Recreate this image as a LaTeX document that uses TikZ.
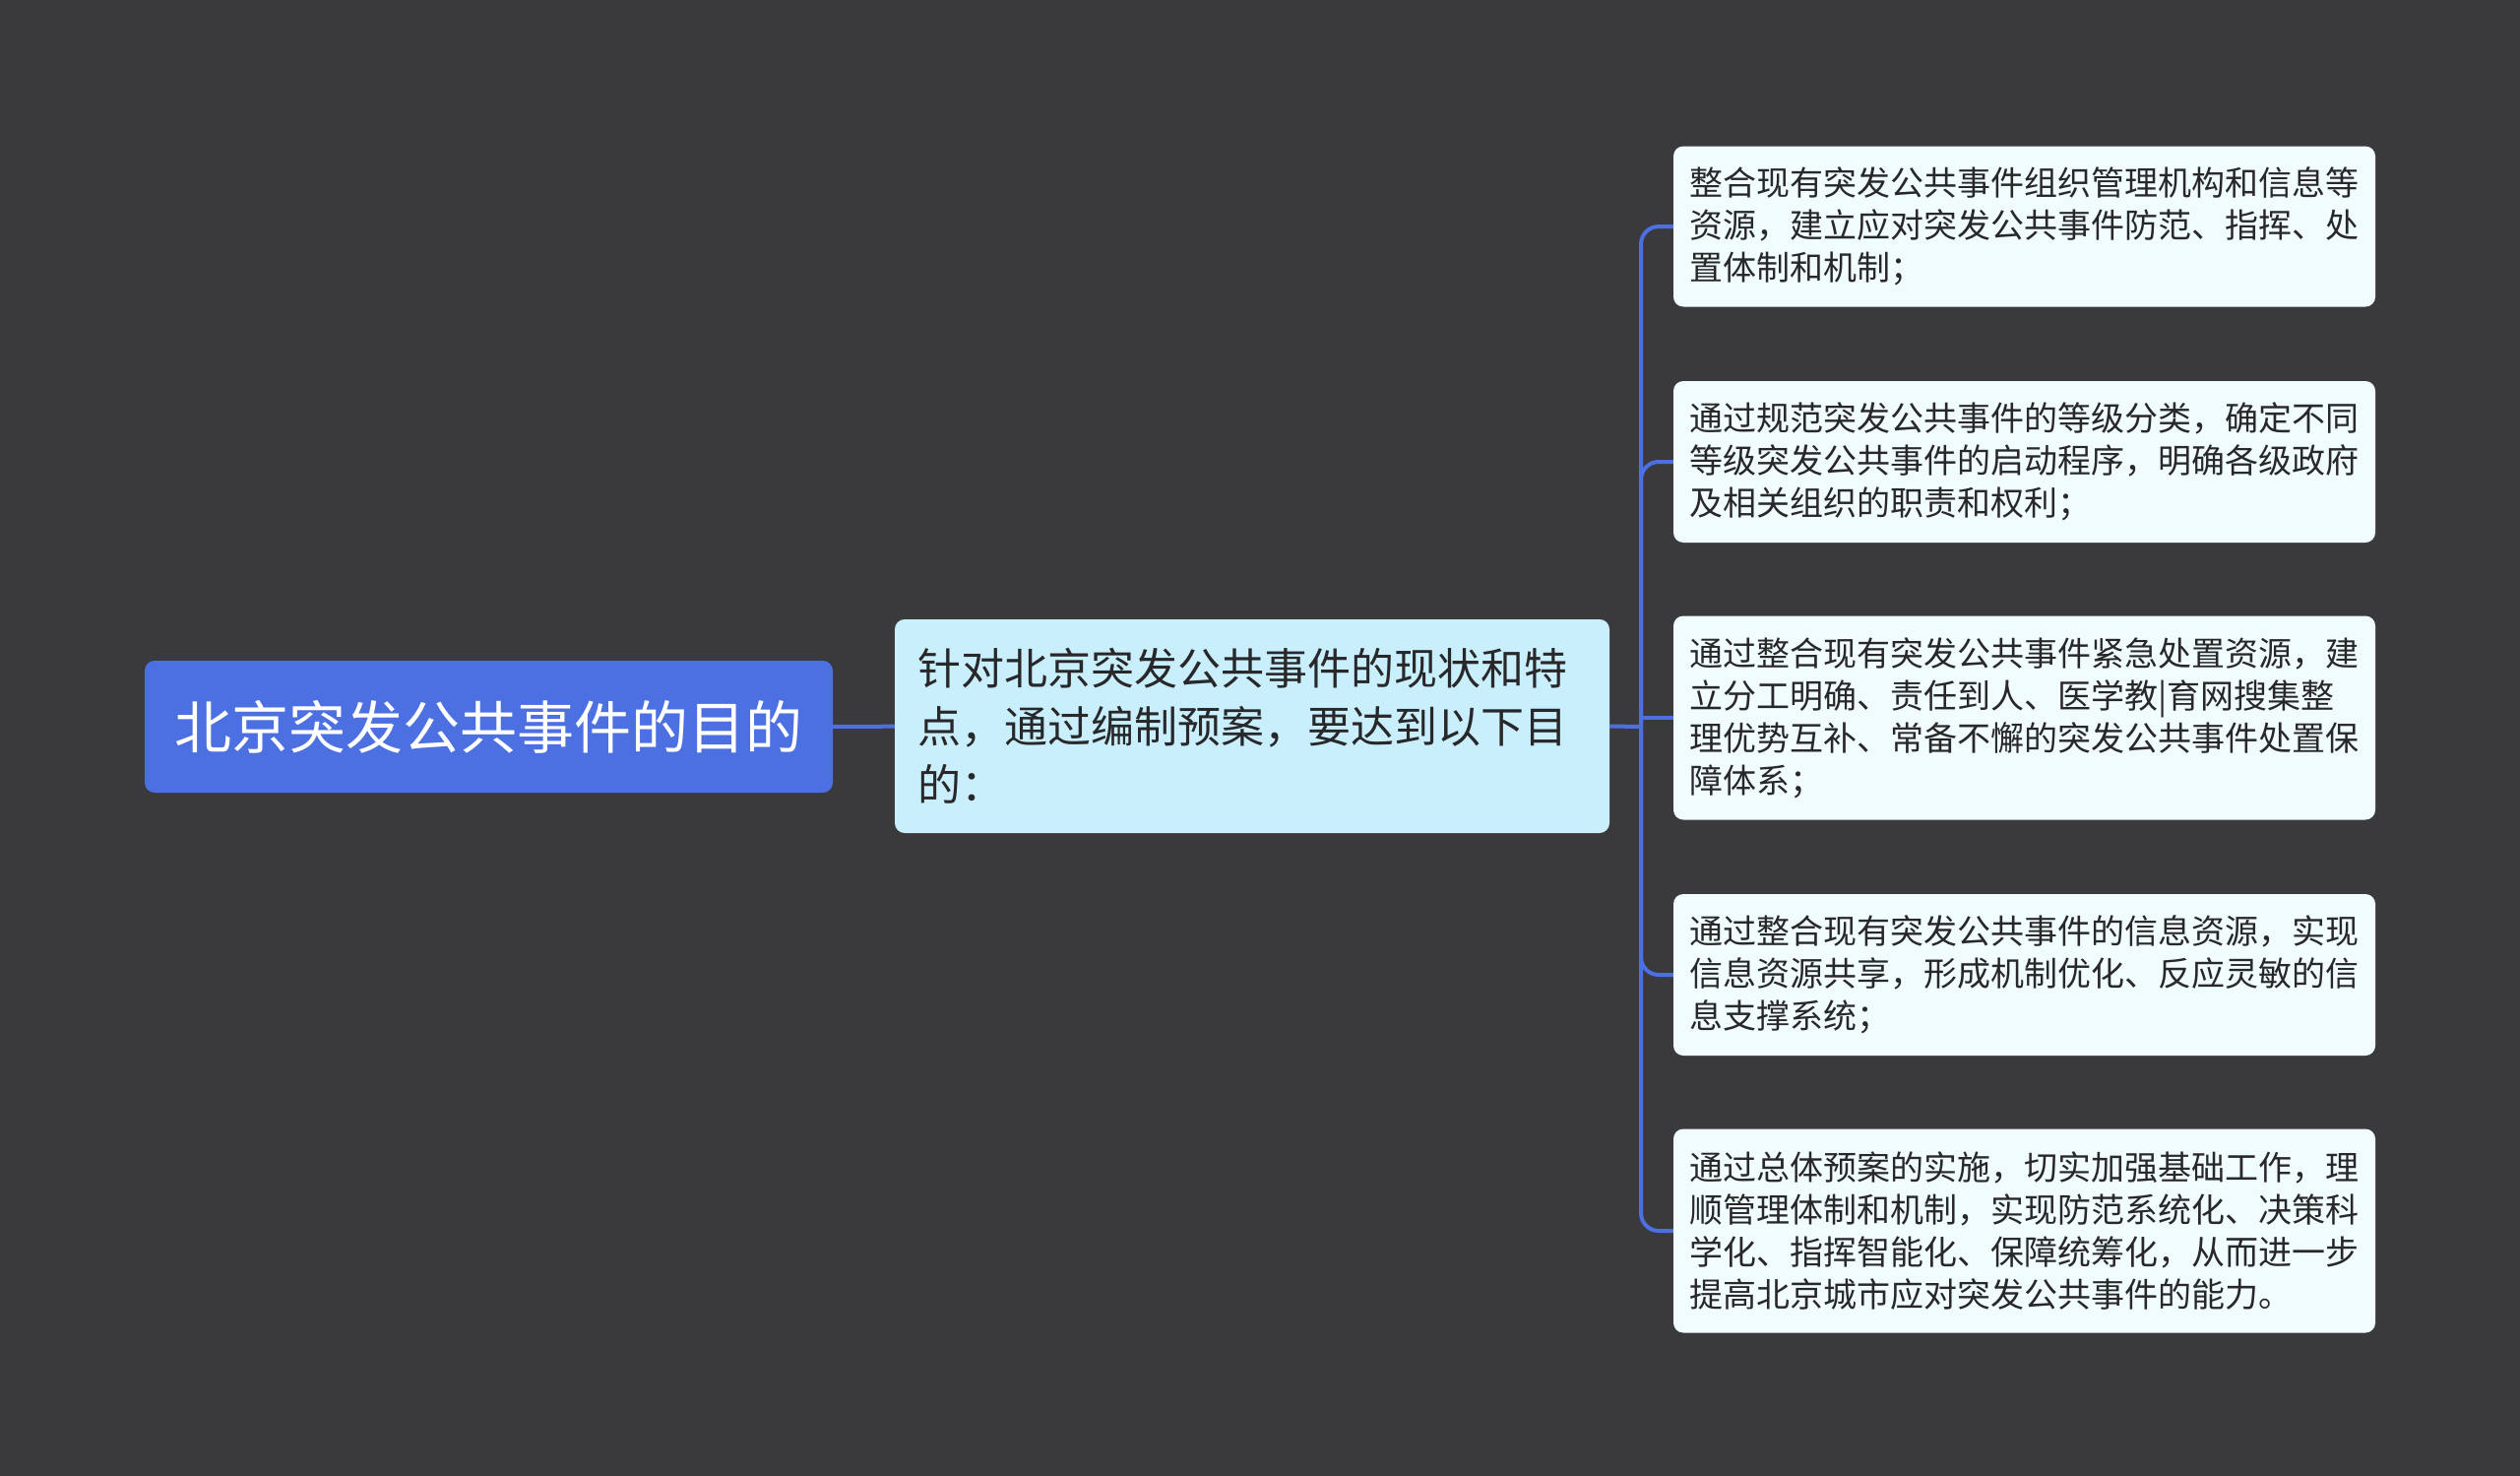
\documentclass[tikz,border=0pt]{standalone}
\usepackage{fontspec}
\setmainfont{Noto Sans CJK SC}
\definecolor{bgdark}{RGB}{58,58,60}
\definecolor{rootblue}{RGB}{76,112,226}
\definecolor{midcyan}{RGB}{201,239,253}
\definecolor{leafwhite}{RGB}{240,252,253}
\definecolor{inkdark}{RGB}{40,40,42}
\tikzset{
  rootbox/.style={fill=rootblue, rounded corners=10pt, text=white, minimum width=699pt,
    minimum height=134pt, inner sep=0pt, font=\fontsize{58}{70}\selectfont},
  midbox/.style={fill=midcyan, rounded corners=10pt, text=inkdark, text width=680pt,
    align=left, minimum height=217pt, inner xsep=23pt, inner ysep=0pt,
    font=\fontsize{44}{59}\selectfont},
  leafbox/.style={fill=leafwhite, rounded corners=10pt, text=inkdark, text width=681pt,
    align=left, inner xsep=16pt, inner ysep=0pt, font=\fontsize{34}{43}\selectfont},
  link/.style={draw=rootblue, line width=4pt},
  curvelink/.style={link, rounded corners=18pt}
}
\begin{document}
\begin{tikzpicture}[x=1pt, y=-1pt]

    \fill[bgdark] (0, 0) rectangle (2560, 1499);

    \node[rootbox] (root) at (496.5, 738) {北京突发公共事件的目的};

    \node[midbox] (mid) at (1272, 737.5) {针对北京突发公共事件的现状和特\\点，通过编制预案，要达到以下目\\的：};

    \node[leafbox, minimum height=163pt] (l1) at (2056.5, 230)
      {整合现有突发公共事件组织管理机构和信息等\\资源，建立应对突发公共事件防范、指挥、处\\置体制和机制；};
    \node[leafbox, minimum height=164pt] (l2) at (2056.5, 469)
      {通过规范突发公共事件的等级分类，确定不同\\等级突发公共事件的启动程序，明确各级政府\\及相关组织的职责和权利；};
    \node[leafbox, minimum height=207pt] (l3) at (2056.5, 729)
      {通过整合现有突发公共事件紧急处置资源，建\\立分工明确、责任到人、医学教|育网搜集整\\理优势互补、常备不懈的突发公共事件处置保\\障体系；};
    \node[leafbox, minimum height=164pt] (l4) at (2056.5, 990)
      {通过整合现有突发公共事件的信息资源，实现\\信息资源共享，形成机制优化、反应灵敏的信\\息支撑系统；};
    \node[leafbox, minimum height=207pt] (l5) at (2056.5, 1250)
      {通过总体预案的实施，切实加强基础工作，理\\顺管理体制和机制，实现防范系统化、决策科\\学化、指挥智能化、保障统筹化，从而进一步\\提高北京城市应对突发公共事件的能力。};

    \coordinate (fork) at (1667, 738);

    \path[link] (root) to (mid);
    \path[link] (mid.east) to (fork);
    \path[curvelink] (fork) |- (l1.west);
    \path[curvelink] (fork) |- (l2.west);
    \path[link] (fork) |- (l3.west);
    \path[curvelink] (fork) |- (l4.west);
    \path[curvelink] (fork) |- (l5.west);

  \end{tikzpicture}
\end{document}
